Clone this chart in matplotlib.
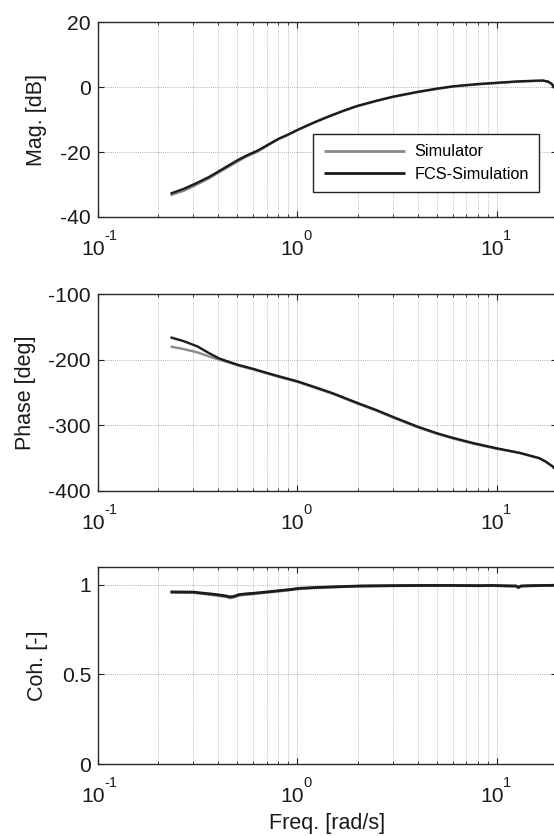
import numpy as np
import matplotlib
matplotlib.use('Agg')
import matplotlib.pyplot as plt
from matplotlib.ticker import LogLocator, NullFormatter, FixedLocator

plt.rcParams['font.family'] = ['Liberation Sans', 'DejaVu Sans']
plt.rcParams['axes.unicode_minus'] = False

# ---------------- data ----------------
freq_mag = [0.231, 0.27, 0.316, 0.36, 0.404, 0.45, 0.505, 0.56, 0.63, 0.71, 0.80, 0.90,
            1.0, 1.2, 1.4, 1.7, 2.0, 2.5, 3.0, 4.0, 5.0, 6.0, 8.0, 10.0, 12.5, 15.0,
            17.0, 18.0, 18.8, 19.5]
mag_fcs = [-32.8, -31.3, -29.4, -27.7, -25.9, -24.2, -22.4, -21.0, -19.6, -17.8, -16.0, -14.6,
           -13.2, -11.0, -9.3, -7.3, -5.8, -4.2, -3.0, -1.5, -0.5, 0.2, 0.9, 1.3, 1.7, 1.9,
           2.0, 1.7, 1.0, -0.3]
mag_sim = [-33.3, -31.9, -29.9, -28.1, -26.3, -24.6, -22.8, -21.3, -19.9, -18.0, -16.1, -14.7,
           -13.3, -11.1, -9.4, -7.4, -5.9, -4.3, -3.1, -1.6, -0.6, 0.1, 0.8, 1.2, 1.6, 1.8,
           1.9, 1.6, 0.9, -0.4]

freq_ph = [0.231, 0.27, 0.316, 0.36, 0.404, 0.45, 0.505, 0.6, 0.7, 0.8, 1.0, 1.2, 1.5,
           2.0, 2.5, 3.0, 4.0, 5.0, 6.0, 7.6, 10.0, 13.0, 16.3, 17.5, 18.9, 19.5]
ph_fcs = [-166, -172, -180, -190, -198, -203, -208, -214, -220, -225, -233, -241, -251,
          -266, -277, -287, -302, -312, -319, -327, -335, -342, -350, -355, -362, -366]
ph_sim = [-180, -184, -189, -195, -200, -204, -209, -215, -221, -226, -234, -242, -252,
          -267, -278, -288, -303, -313, -320, -328, -336, -342, -350, -355, -362, -366]

freq_coh = [0.231, 0.30, 0.33, 0.364, 0.40, 0.44, 0.46, 0.48, 0.51, 0.55, 0.60, 0.65, 0.72,
            0.81, 0.90, 1.02, 1.2, 1.4, 1.7, 2.06, 3.0, 4.4, 6.0, 8.0, 9.5, 11.0, 12.5,
            12.8, 13.2, 15.0, 17.0, 19.5]
coh_fcs = [0.961, 0.960, 0.955, 0.950, 0.945, 0.938, 0.933, 0.936, 0.946, 0.950, 0.953, 0.957,
           0.962, 0.968, 0.973, 0.981, 0.985, 0.988, 0.991, 0.994, 0.996, 0.997, 0.997, 0.996,
           0.997, 0.995, 0.994, 0.986, 0.994, 0.996, 0.997, 0.998]
coh_sim = [0.958, 0.957, 0.952, 0.946, 0.940, 0.933, 0.927, 0.931, 0.942, 0.946, 0.950, 0.954,
           0.959, 0.965, 0.971, 0.978, 0.983, 0.986, 0.990, 0.993, 0.995, 0.996, 0.996, 0.995,
           0.996, 0.994, 0.993, 0.984, 0.993, 0.995, 0.996, 0.997]

legend_labels = ['Simulator', 'FCS-Simulation']
ylabels = ['Mag. [dB]', 'Phase [deg]', 'Coh. [-]']
xlabel = 'Freq. [rad/s]'
xticks = [0.1, 1, 10]
xtick_exponents = ['-1', '0', '1']
yticks_list = [[-40, -20, 0, 20], [-400, -300, -200, -100], [0, 0.5, 1]]
yticklabels_list = [['-40', '-20', '0', '20'], ['-400', '-300', '-200', '-100'], ['0', '0.5', '1']]
ylims = [(-40, 20), (-400, -100), (0, 1.1)]

# ---------------- figure ----------------
W, H = 554, 836
fig = plt.figure(figsize=(W / 100, H / 100), dpi=100)

left_px, right_px = 98, 557
axes_px = [(22, 217), (294, 491), (567, 764)]
ylabel_x = [-0.135, -0.157, -0.131]

sim_color = '#8a8a8a'
fcs_color = '#1c1c1c'
text_color = '#1a1a1a'

series = [(freq_mag, mag_sim, mag_fcs), (freq_ph, ph_sim, ph_fcs), (freq_coh, coh_sim, coh_fcs)]

axes = []
for i, ((top, bot), (fx, ys, yf)) in enumerate(zip(axes_px, series)):
    ax = fig.add_axes([left_px / W, 1 - bot / H, (right_px - left_px) / W, (bot - top) / H])
    axes.append(ax)
    ax.set_xscale('log')
    ax.set_xlim(0.1, 20)
    ax.set_ylim(*ylims[i])
    lw = 1.7 if i < 2 else 2.0
    ax.plot(fx, ys, color=sim_color, lw=lw, label=legend_labels[0], solid_capstyle='butt')
    ax.plot(fx, yf, color=fcs_color, lw=lw, label=legend_labels[1], solid_capstyle='butt')

    ax.xaxis.set_major_locator(FixedLocator(xticks))
    ax.xaxis.set_major_formatter(NullFormatter())
    ax.xaxis.set_minor_locator(LogLocator(base=10, subs=np.arange(2, 10), numticks=20))
    ax.xaxis.set_minor_formatter(NullFormatter())
    ax.set_yticks(yticks_list[i])
    ax.set_yticklabels(yticklabels_list[i])

    ax.tick_params(which='both', direction='in', top=True, right=True, colors='#222222',
                   labelcolor=text_color, labelsize=15.2)
    ax.tick_params(which='major', length=4, width=0.8)
    ax.tick_params(which='minor', length=2.5, width=0.6)
    ax.tick_params(axis='y', which='major', pad=5)

    # x tick labels "10" with raised exponent (MATLAB style)
    for xt, ex in zip(xticks, xtick_exponents):
        ax.annotate('10', xy=(xt, 0), xycoords=('data', 'axes fraction'),
                    xytext=(-5, -38), textcoords='offset pixels', ha='center', va='baseline',
                    fontsize=15.2, color=text_color, annotation_clip=False)
        ax.annotate(ex, xy=(xt, 0), xycoords=('data', 'axes fraction'),
                    xytext=(6, -23), textcoords='offset pixels', ha='left', va='baseline',
                    fontsize=10.5, color=text_color, annotation_clip=False)

    ax.grid(True, which='major', axis='both', linestyle=(0, (1, 1.5)), color='#9a9a9a', lw=0.6)
    ax.grid(True, which='minor', axis='x', linestyle=(0, (1, 1.5)), color='#aaaaaa', lw=0.6)
    ax.set_axisbelow(True)
    for s in ax.spines.values():
        s.set_color('#2a2a2a')
        s.set_linewidth(1.0)

    ax.set_ylabel(ylabels[i], fontsize=15.5, va='center', color=text_color)
    ax.yaxis.set_label_coords(ylabel_x[i], 0.5)

axes[2].set_xlabel(xlabel, fontsize=15.5, va='center', color=text_color)
axes[2].xaxis.set_label_coords(0.5, -0.30)

leg = axes[0].legend(loc='lower right', bbox_to_anchor=(0.961, 0.127), borderaxespad=0,
                     fontsize=11.7, handlelength=5.0, handletextpad=0.55, labelspacing=0.45,
                     borderpad=0.65, fancybox=False, framealpha=1, edgecolor='#222222')
leg.get_frame().set_linewidth(1.0)
for line in leg.get_lines():
    line.set_linewidth(2.0)

fig.savefig('out.png', dpi=100)
